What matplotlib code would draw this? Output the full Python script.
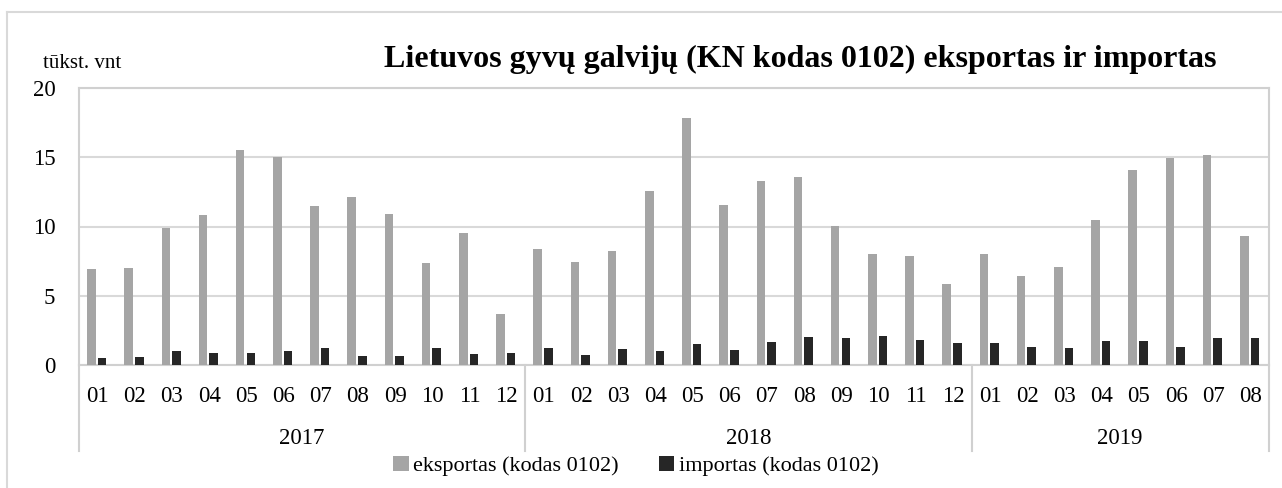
import matplotlib
matplotlib.use("Agg")
import matplotlib.pyplot as plt
import matplotlib.transforms as mtransforms
import numpy as np

plt.rcParams['font.family'] = ['Liberation Serif', 'DejaVu Serif']

months = ["01", "02", "03", "04", "05", "06", "07", "08", "09", "10", "11", "12",
          "01", "02", "03", "04", "05", "06", "07", "08", "09", "10", "11", "12",
          "01", "02", "03", "04", "05", "06", "07", "08"]
years = ["2017", "2018", "2019"]
year_counts = [12, 12, 8]

eksportas = [6.9, 7.0, 9.9, 10.8, 15.5, 15.05, 11.5, 12.1, 10.9, 7.4, 9.5, 3.65,
             8.35, 7.45, 8.25, 12.55, 17.8, 11.55, 13.25, 13.55, 10.05, 8.05, 7.9, 5.85,
             8.0, 6.45, 7.1, 10.5, 14.05, 14.95, 15.15, 9.3]
importas = [0.5, 0.55, 1.03, 0.84, 0.84, 1.0, 1.23, 0.62, 0.62, 1.2, 0.82, 0.89,
            1.23, 0.7, 1.13, 1.0, 1.51, 1.1, 1.66, 2.0, 1.92, 2.09, 1.8, 1.56,
            1.59, 1.32, 1.23, 1.73, 1.75, 1.3, 1.92, 1.95]

title = "Lietuvos gyvų galvijų (KN kodas 0102) eksportas ir importas"
ylabel = "tūkst. vnt"
series_names = ["eksportas (kodas 0102)", "importas (kodas 0102)"]

W, H = 1282, 488
fig = plt.figure(figsize=(W / 100, H / 100), dpi=100)

ax_l, ax_r, ax_t, ax_b = 79, 1269, 88, 365
ax = fig.add_axes([ax_l / W, 1 - ax_b / H, (ax_r - ax_l) / W, (ax_b - ax_t) / H])

x = np.arange(len(months))
bw = 0.23
c_exp = "#A5A5A5"
c_imp = "#262626"
b1 = ax.bar(x - 0.165, eksportas, width=bw, color=c_exp, label=series_names[0], zorder=3)
b2 = ax.bar(x + 0.12, importas, width=bw, color=c_imp, label=series_names[1], zorder=3)

ax.set_xlim(-0.5, len(months) - 0.5)
ax.set_ylim(0, 20)
ax.set_yticks([0, 5, 10, 15, 20])
ax.grid(axis='y', color="#D9D9D9", linewidth=1.5, zorder=0)
ax.set_axisbelow(True)

for s in ['top', 'right', 'left', 'bottom']:
    ax.spines[s].set_color("#D0D0D0")
    ax.spines[s].set_linewidth(1.5)

ax.tick_params(axis='y', length=0, labelsize=16.5, pad=17)
ax.set_xticks(x)
ax.set_xticklabels(months)
ax.tick_params(axis='x', length=0, labelsize=16.5, pad=15)

# Year labels and separators
trans = mtransforms.blended_transform_factory(ax.transData, ax.transAxes)
sep_bottom = (ax_b - 451) / (ax_b - ax_t)
year_y = (ax_b - 438) / (ax_b - ax_t)
start = 0
bounds = [-0.5]
for yr, n in zip(years, year_counts):
    center = start + (n - 1) / 2
    ax.text(center, year_y, yr, transform=trans, ha='center', va='center', fontsize=16.5)
    start += n
    bounds.append(start - 0.5)
for b in bounds:
    ax.plot([b, b], [0, sep_bottom], transform=trans, color="#D0D0D0", linewidth=1.5,
            clip_on=False, zorder=1)

# Title and y label
fig.text(800 / W, 1 - 59 / H, title, ha='center', va='center', fontsize=23, fontweight='bold')
fig.text(43 / W, 1 - 63 / H, ylabel, ha='left', va='center', fontsize=15)

# Legend
fig.legend(handles=[b1, b2], labels=series_names, loc='center', bbox_to_anchor=(636 / W, 1 - 466 / H),
           ncol=2, frameon=False, fontsize=16, handlelength=0.7, handleheight=0.7,
           handletextpad=0.2, columnspacing=1.8, borderpad=0)

# Outer border (left and top visible)
fig.add_artist(plt.Line2D([7 / W, 7 / W], [0, 1 - 12 / H], color="#D9D9D9", linewidth=1.5,
                          transform=fig.transFigure))
fig.add_artist(plt.Line2D([7 / W, 1], [1 - 12 / H, 1 - 12 / H], color="#D9D9D9", linewidth=1.5,
                          transform=fig.transFigure))

fig.savefig("out.png", dpi=100)
